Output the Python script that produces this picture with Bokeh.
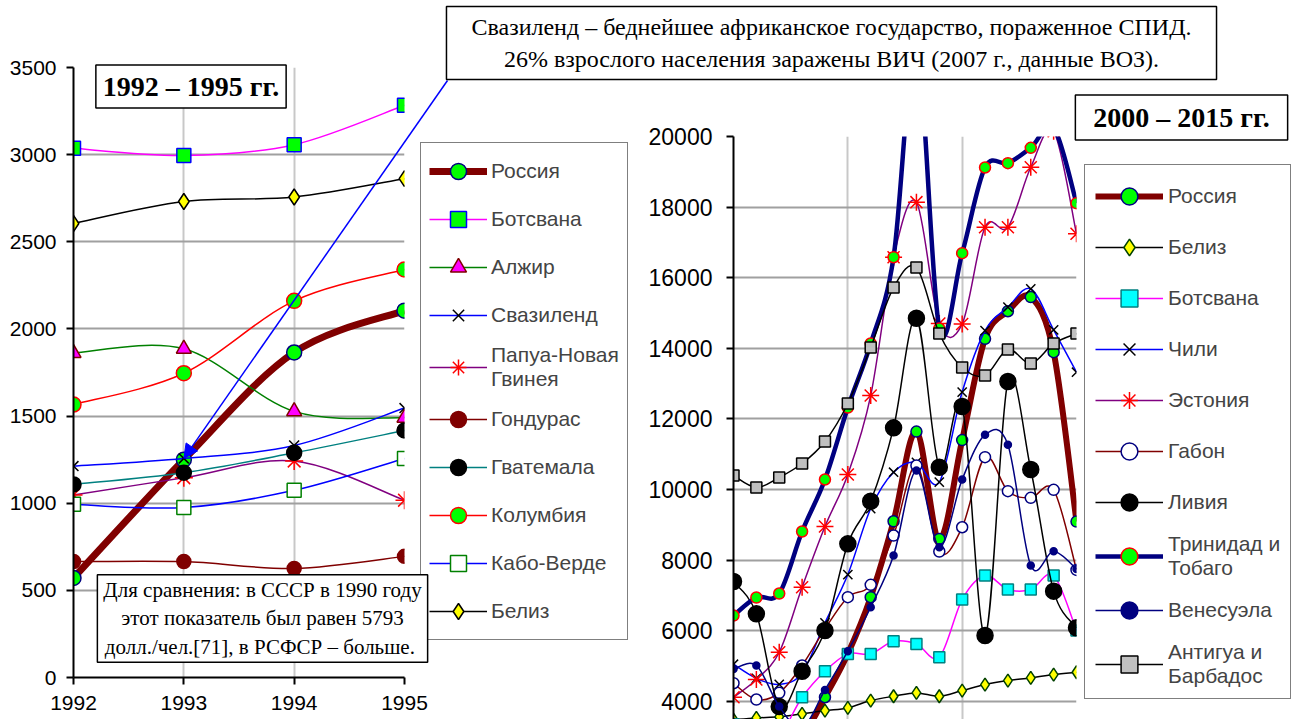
from bokeh.plotting import figure
from bokeh.layouts import column
from bokeh.models import Range1d, Label, Arrow, NormalHead, Legend, LegendItem
from bokeh.embed import file_html
from bokeh.resources import INLINE

# ---------------- data: 1992-1995 ----------------
years_a = [1992, 1993, 1994, 1995]
ticks_a = [0, 500, 1000, 1500, 2000, 2500, 3000, 3500]
russia_a = [571, 1250, 1865, 2105]
botswana_a = [3036, 2995, 3057, 3283]
algeria_a = [1861, 1886, 1527, 1490]
swaziland_a = [1213, 1257, 1331, 1546]
png_a = [1047, 1146, 1242, 1017]
honduras_a = [665, 665, 626, 695]
guatemala_a = [1108, 1175, 1289, 1417]
colombia_a = [1566, 1746, 2161, 2341]
caboverde_a = [994, 975, 1074, 1257]
belize_a = [2605, 2731, 2757, 2862]

# ---------------- data: 2000-2015 ----------------
years_b = list(range(2000, 2016))
ticks_b = [4000, 6000, 8000, 10000, 12000, 14000, 16000, 18000, 20000]
grid_years_b = [2000, 2005, 2010, 2015]
russia_b = [1775, 2100, 2375, 2975, 4115, 5350, 6950, 9100, 11640, 8600, 11400, 14270, 15050, 15450, 13890, 9090]
belize_b = [3480, 3530, 3560, 3645, 3737, 3813, 4020, 4143, 4238, 4143, 4304, 4474, 4587, 4663, 4757, 4823]
botswana_b = [3350, 3100, 3050, 4115, 4852, 5343, 5343, 5700, 5626, 5249, 6883, 7563, 7167, 7167, 7563, 6005]
chile_b = [5050, 4650, 4480, 4800, 6220, 7590, 9460, 10490, 10770, 10210, 12760, 14500, 15165, 15685, 14523, 13323]
estonia_b = [4115, 4617, 5390, 7232, 8951, 10427, 12662, 16580, 18140, 14700, 14690, 17430, 17430, 19130, 20150, 17243]
gabon_b = [4512, 4050, 4240, 5014, 6050, 6950, 7300, 8696, 10680, 8243, 8931, 10916, 9953, 9764, 9991, 7723]
libya_b = [7393, 6478, 3850, 4852, 6005, 8460, 9667, 11747, 14853, 10632, 12350, 5864, 13059, 10566, 7120, 6083]
tt_b = [6430, 6940, 7053, 8810, 10283, 12322, 14136, 16580, 22600, 14560, 16694, 19122, 19245, 19679, 20250, 18111]
venezuela_b = [4917, 5013, 3850, 3250, 4322, 5420, 6665, 8130, 10538, 8365, 10283, 11549, 11266, 7847, 8251, 7751]
antigua_b = [10396, 10056, 10340, 10736, 11360, 12436, 14022, 15722, 16289, 14419, 13456, 13230, 13966, 13569, 14136, 14419]

FONT = "Liberation Sans"
SERIF = "Liberation Serif"

# ---------------- page geometry (pixels) ----------------
W, H = 1296, 719
F1 = dict(left=73, right=404, top=67, bottom=677)     # left panel frame
F2 = dict(left=733, right=1076, top=136, bottom=719)  # right panel frame
Y2_TOP = 20000
Y2_PER_PX = 2000 / 70.6
Y2_BOTTOM = Y2_TOP - (F2["bottom"] - F2["top"]) * Y2_PER_PX


def bez(xs, ys):
    """Control points of a smoothed (Excel-like) curve through the data points."""
    n = len(xs)
    out = {k: [] for k in ("x0", "y0", "x1", "y1", "cx0", "cy0", "cx1", "cy1")}
    for i in range(n - 1):
        a = i - 1 if i > 0 else i
        b = i + 2 if i + 2 < n else i + 1
        out["x0"].append(xs[i]); out["y0"].append(ys[i])
        out["x1"].append(xs[i + 1]); out["y1"].append(ys[i + 1])
        out["cx0"].append(xs[i] + (xs[i + 1] - xs[a]) / 6.0)
        out["cy0"].append(ys[i] + (ys[i + 1] - ys[a]) / 6.0)
        out["cx1"].append(xs[i + 1] - (xs[b] - xs[i]) / 6.0)
        out["cy1"].append(ys[i + 1] - (ys[b] - ys[i]) / 6.0)
    return out


def series(p, xs, ys, color, lw, marker, size, fill, edge, ew=1.5, **kw):
    d = bez(xs, ys)
    rl = p.bezier(x0=d["x0"], y0=d["y0"], x1=d["x1"], y1=d["y1"],
                  cx0=d["cx0"], cy0=d["cy0"], cx1=d["cx1"], cy1=d["cy1"],
                  line_color=color, line_width=lw, **kw)
    rm = p.scatter(xs, ys, marker=marker, size=size, fill_color=fill,
                   line_color=edge, line_width=ew, **kw)
    return [rl, rm]


def style_axis(ax, fs):
    ax.axis_line_color = "black"
    ax.axis_line_width = 2
    ax.major_tick_line_color = "black"
    ax.major_tick_line_width = 2
    ax.major_tick_out = 7
    ax.major_tick_in = 0
    ax.minor_tick_out = 0
    ax.minor_tick_in = 0
    ax.major_label_text_font = FONT
    ax.major_label_text_font_size = fs
    ax.major_label_text_color = "black"


def make_legend(items, loc, pad, spacing, gw, gh, standoff, fs):
    return Legend(items=[LegendItem(label=l, renderers=r) for l, r in items],
                  location=loc, border_line_color="black", border_line_width=1.5,
                  background_fill_color="white", background_fill_alpha=1,
                  inactive_fill_alpha=0,
                  padding=pad, spacing=spacing, margin=0, glyph_width=gw, glyph_height=gh,
                  label_standoff=standoff, label_height=20,
                  label_text_font=FONT, label_text_font_size=fs)


# ================= left panel =================
p1 = figure(width=W, height=H, x_range=Range1d(years_a[0], years_a[-1]), y_range=Range1d(ticks_a[0], ticks_a[-1]),
            output_backend="svg", toolbar_location=None, frame_align=False,
            min_border_left=F1["left"], min_border_right=W - F1["right"],
            min_border_top=F1["top"], min_border_bottom=H - F1["bottom"])
p1.outline_line_color = None
p1.background_fill_color = "white"
p1.border_fill_color = "white"
p1.xaxis.ticker = years_a
p1.yaxis.ticker = ticks_a
for ax in p1.axis:
    style_axis(ax, "21px")
p1.xaxis.major_label_standoff = 11
p1.yaxis.major_label_standoff = 10
p1.xgrid.grid_line_color = "#c8c8c8"
p1.xgrid.grid_line_width = 2
p1.ygrid.grid_line_color = "#a0a0a0"
p1.ygrid.grid_line_width = 2

la = []
la.append(("Россия", series(p1, years_a, russia_a, "#800000", 7, "circle", 15, "#00ff00", "#000080")))
la.append(("Ботсвана", series(p1, years_a, botswana_a, "#ff00ff", 1.5, "square", 14, "#00ff00", "#0000ff")))
la.append(("Алжир", series(p1, years_a, algeria_a, "#008000", 1.5, "triangle", 15, "#ff00ff", "#800000")))
la.append(("Свазиленд", series(p1, years_a, swaziland_a, "#0000ff", 1.5, "x", 14, None, "black")))
la.append(("Папуа-Новая\nГвинея", series(p1, years_a, png_a, "#800080", 1.5, "asterisk", 18, None, "#ff0000")))
la.append(("Гондурас", series(p1, years_a, honduras_a, "#800000", 1.5, "circle", 14, "#800000", "#800000")))
la.append(("Гватемала", series(p1, years_a, guatemala_a, "#008080", 1.5, "circle", 15, "black", "black")))
la.append(("Колумбия", series(p1, years_a, colombia_a, "#ff0000", 1.5, "circle", 15, "#00ff00", "#ff0000")))
la.append(("Кабо-Верде", series(p1, years_a, caboverde_a, "#0000ff", 1.5, "square", 14, "white", "#008000")))
la.append(("Белиз", series(p1, years_a, belize_a, "black", 1.5, "diamond", 16, "#ffff00", "black")))

p1.add_layout(make_legend(la, (16, 37), 8, 8, 58, 40, 4, "21px"), "right")

# ================= right panel =================
p2 = figure(width=W, height=H, x_range=Range1d(years_b[0], years_b[-1]), y_range=Range1d(Y2_BOTTOM, Y2_TOP),
            output_backend="svg", toolbar_location=None, frame_align=False,
            min_border_left=F2["left"], min_border_right=W - F2["right"],
            min_border_top=F2["top"], min_border_bottom=H - F2["bottom"],
            styles={"position": "absolute", "left": "0px", "top": "0px"})
p2.outline_line_color = None
p2.background_fill_color = None
p2.border_fill_color = None
p2.xaxis.visible = False
p2.xaxis.ticker = grid_years_b
p2.yaxis.ticker = ticks_b
style_axis(p2.yaxis[0], "23px")
p2.yaxis.major_label_standoff = 14
p2.xgrid.grid_line_color = "#c8c8c8"
p2.xgrid.grid_line_width = 2
p2.ygrid.grid_line_color = "#a0a0a0"
p2.ygrid.grid_line_width = 2

# (label, values, line colour, line width, marker, size, fill, edge)
specs_b = [
    ("Россия", russia_b, "#800000", 6, "circle", 11, "#00ff00", "#000080"),
    ("Белиз", belize_b, "black", 1.5, "diamond", 13, "#ffff00", "#004000"),
    ("Ботсвана", botswana_b, "#ff00ff", 1.5, "square", 11, "#00ffff", "#008080"),
    ("Чили", chile_b, "#0000ff", 1.5, "x", 13, None, "black"),
    ("Эстония", estonia_b, "#800080", 1.5, "asterisk", 17, None, "#ff0000"),
    ("Габон", gabon_b, "#800000", 1.5, "circle", 11, "white", "#000080"),
    ("Ливия", libya_b, "black", 1.5, "circle", 16, "black", "black"),
    ("Тринидад и\nТобаго", tt_b, "#000080", 4.5, "circle", 11, "#00ff00", "#ff0000"),
    ("Венесуэла", venezuela_b, "#000080", 1.5, "circle", 7, "#000080", "#000080"),
    ("Антигуа и\nБарбадос", antigua_b, "black", 1.5, "square", 11, "#c0c0c0", "black"),
]
for lab, vals, c, lw, m, s, f, e in specs_b:
    series(p2, years_b, vals, c, lw, m, s, f, e)

# ================= overlay: call-out boxes (same data space as the left panel) + right legend =================
XPX = (years_a[-1] - years_a[0]) / (F1["right"] - F1["left"])
YPX = (ticks_a[-1] - ticks_a[0]) / (F1["bottom"] - F1["top"])


def X(px):
    return years_a[0] + (px - F1["left"]) * XPX


def Y(py):
    return ticks_a[0] + (F1["bottom"] - py) * YPX


p3 = figure(width=W, height=H, x_range=Range1d(X(0), X(W)), y_range=Range1d(Y(H), Y(0)),
            output_backend="svg", toolbar_location=None, frame_align=False, min_border=0,
            styles={"position": "absolute", "left": "0px", "top": "0px"})
p3.axis.visible = False
p3.grid.visible = False
p3.outline_line_color = None
p3.background_fill_color = None
p3.border_fill_color = None

# legend swatches for the right panel: same series, drawn on a range where they fall off-canvas
p3.extra_x_ranges = {"swatch": Range1d(0, 1)}
lb = []
for lab, vals, c, lw, m, s, f, e in specs_b:
    lb.append((lab, series(p3, years_b, vals, c, lw, m, s, f, e, x_range_name="swatch")))
p3.add_layout(make_legend(lb, (1084, 20), 10, 9, 68, 42, 5, "21px"))


def box(x, y, text, size, bold=False, pad=(6, 6, 6, 6)):
    p3.add_layout(Label(x=X(x), y=Y(y), text=text, text_align="center", text_baseline="middle",
                        text_font=SERIF, text_font_size=size,
                        text_font_style="bold" if bold else "normal", text_color="black",
                        background_fill_color="white", border_line_color="black",
                        border_line_width=1.5,
                        padding=dict(left=pad[0], right=pad[1], top=pad[2], bottom=pad[3])))


box(190.5, 86, "1992 – 1995 гг.", "28px", bold=True, pad=(7, 7, 6, 6))
box(1181, 117, "2000 – 2015 гг.", "28px", bold=True, pad=(18, 18, 7, 7))
box(262, 618, "Для сравнения: в СССР в 1990 году\nэтот показатель был равен 5793\nдолл./чел.[71], в РСФСР –  больше.",
    "21px", pad=(6, 6, 3, 3))
p3.add_layout(Arrow(end=NormalHead(size=14, fill_color="#0000ff", line_color="#0000ff"),
                    x_start=X(447), y_start=Y(80), x_end=years_a[1], y_end=swaziland_a[1],
                    line_color="#0000ff", line_width=1.5))
box(831, 42.5, "Свазиленд – беднейшее африканское государство, пораженное СПИД.\n26% взрослого населения заражены ВИЧ (2007 г., данные ВОЗ).",
    "24px", pad=(25, 25, 8, 8))

layout = column(p1, p2, p3, width=W, height=H, styles={"position": "relative"})
open("out.html", "w").write(file_html(layout, INLINE))
